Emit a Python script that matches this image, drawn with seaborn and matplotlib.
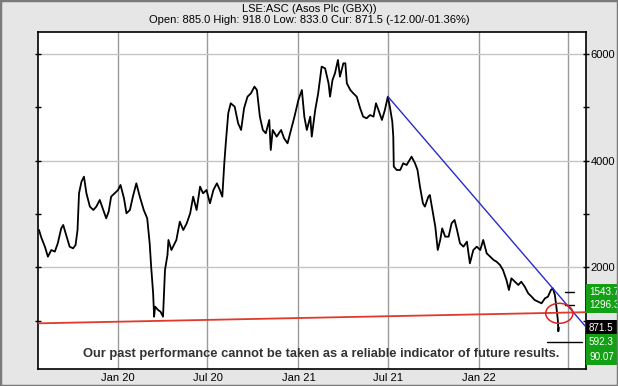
import matplotlib
matplotlib.use("Agg")
import matplotlib.pyplot as plt
import matplotlib.dates as mdates
from matplotlib.patches import Ellipse, Rectangle
from matplotlib.ticker import FixedLocator
import pandas as pd
import seaborn as sns

# ---------------- data ----------------
dates = [
    "2019-07-26", "2019-07-31", "2019-08-07", "2019-08-13", "2019-08-20", "2019-08-27",
    "2019-09-02", "2019-09-09", "2019-09-13", "2019-09-19", "2019-09-26", "2019-10-03",
    "2019-10-08", "2019-10-12", "2019-10-15", "2019-10-20", "2019-10-25", "2019-10-30",
    "2019-11-06", "2019-11-13", "2019-11-19", "2019-11-26", "2019-12-03", "2019-12-09",
    "2019-12-14", "2019-12-19", "2019-12-26", "2020-01-02", "2020-01-07", "2020-01-14",
    "2020-01-19", "2020-01-26", "2020-02-01", "2020-02-08", "2020-02-15", "2020-02-23",
    "2020-03-01", "2020-03-06", "2020-03-09", "2020-03-13", "2020-03-15", "2020-03-17",
    "2020-03-23", "2020-03-28", "2020-04-02", "2020-04-06", "2020-04-11", "2020-04-13",
    "2020-04-19", "2020-04-29", "2020-05-06", "2020-05-13", "2020-05-20", "2020-05-27",
    "2020-06-02", "2020-06-09", "2020-06-16", "2020-06-22", "2020-06-29", "2020-07-06",
    "2020-07-13", "2020-07-20", "2020-07-26", "2020-07-31", "2020-08-04", "2020-08-07",
    "2020-08-12", "2020-08-17", "2020-08-25", "2020-09-01", "2020-09-07", "2020-09-13",
    "2020-09-20", "2020-09-27", "2020-10-04", "2020-10-09", "2020-10-15", "2020-10-21",
    "2020-10-27", "2020-11-03", "2020-11-06", "2020-11-10", "2020-11-18", "2020-11-27",
    "2020-12-03", "2020-12-10", "2020-12-17", "2020-12-24", "2021-01-01", "2021-01-08",
    "2021-01-13", "2021-01-18", "2021-01-25", "2021-01-28", "2021-02-04", "2021-02-10",
    "2021-02-17", "2021-02-24", "2021-03-03", "2021-03-06", "2021-03-11", "2021-03-16",
    "2021-03-22", "2021-03-26", "2021-04-02", "2021-04-06", "2021-04-09", "2021-04-16",
    "2021-04-22", "2021-04-29", "2021-05-06", "2021-05-12", "2021-05-19", "2021-05-26",
    "2021-06-02", "2021-06-07", "2021-06-12", "2021-06-19", "2021-06-25", "2021-07-01",
    "2021-07-05", "2021-07-10", "2021-07-12", "2021-07-13", "2021-07-19", "2021-07-26",
    "2021-08-01", "2021-08-08", "2021-08-18", "2021-08-25", "2021-08-30", "2021-09-04",
    "2021-09-10", "2021-09-14", "2021-09-21", "2021-09-24", "2021-09-28", "2021-10-05",
    "2021-10-10", "2021-10-15", "2021-10-19", "2021-10-25", "2021-11-01", "2021-11-07",
    "2021-11-13", "2021-11-18", "2021-11-24", "2021-12-01", "2021-12-08", "2021-12-14",
    "2021-12-21", "2021-12-28", "2022-01-04", "2022-01-10", "2022-01-17", "2022-01-24",
    "2022-01-31", "2022-02-06", "2022-02-13", "2022-02-19", "2022-02-26", "2022-03-03",
    "2022-03-08", "2022-03-15", "2022-03-22", "2022-03-28", "2022-04-04", "2022-04-11",
    "2022-04-18", "2022-04-24", "2022-05-01", "2022-05-08", "2022-05-15", "2022-05-21",
    "2022-05-27", "2022-05-31", "2022-06-04", "2022-06-07", "2022-06-10", "2022-06-11",
    "2022-06-12",
]
prices = [
    2700, 2550, 2387, 2200, 2325, 2294,
    2450, 2731, 2794, 2606, 2387, 2356,
    2419, 2700, 3388, 3606, 3700, 3388,
    3138, 3075, 3138, 3263, 3075, 2919,
    3044, 3325, 3388, 3450, 3544, 3294,
    3013, 3075, 3325, 3575, 3325, 3075,
    2919, 2450, 2013, 1513, 1075, 1263,
    1200, 1169, 1075, 1950, 2231, 2513,
    2325, 2513, 2856, 2700, 2825, 3013,
    3325, 3075, 3513, 3388, 3450, 3200,
    3450, 3575, 3450, 3325, 3950, 4325,
    4888, 5075, 5013, 4700, 4575, 4981,
    5200, 5263, 5388, 5325, 4825, 4575,
    4513, 4763, 4200, 4575, 4450, 4575,
    4419, 4325, 4575, 4825, 5138, 5325,
    4825, 4575, 4825, 4450, 4950, 5263,
    5763, 5731, 5450, 5200, 5513, 5638,
    5888, 5575, 5825, 5825, 5450, 5325,
    5263, 5200, 4981, 4825, 4794, 4856,
    4825, 5075, 4950, 4763, 4950, 5200,
    5013, 4731, 4450, 3888, 3825, 3825,
    3950, 3919, 4075, 3950, 3825, 3513,
    3200, 3138, 3325, 3356, 3138, 2763,
    2325, 2513, 2731, 2575, 2575, 2825,
    2888, 2700, 2450, 2388, 2481, 2075,
    2325, 2388, 2325, 2513, 2263, 2200,
    2138, 2106, 2044, 1950, 1763, 1575,
    1794, 1731, 1669, 1731, 1638, 1513,
    1450, 1388, 1356, 1325, 1419, 1450,
    1575, 1606, 1481, 1263, 1013, 800,
    871.5,
]

title = "LSE:ASC (Asos Plc (GBX))"
subtitle = "Open: 885.0 High: 918.0 Low: 833.0 Cur: 871.5 (-12.00/-01.36%)"
disclaimer = "Our past performance cannot be taken as a reliable indicator of future results."

xtick_dates = ["2020-01-01", "2020-07-01", "2021-01-01", "2021-07-01", "2022-01-01", "2022-07-01"]
xtick_labels = ["Jan 20", "Jul 20", "Jan 21", "Jul 21", "Jan 22", ""]
ytick_values = [2000, 4000, 6000]
ytick_minor = [1000, 3000, 5000]
x_range = ["2019-07-24", "2022-08-06"]
y_range = [94, 6412]

level_values = [1543.7, 1296.3, 871.5, 592.3, 90.07]
level_labels = ["1543.7", "1296.3", "871.5", "592.3", "90.07"]
level_is_current = [False, False, True, False, False]

blue_dates = ["2021-07-01", "2022-08-06"]
blue_prices = [5203, 881]
red_dates = ["2019-07-24", "2022-08-06"]
red_prices = [950, 1159]

target_levels = [1543.7, 1296.3, 592.3]
target_starts = ["2022-06-25", "2022-06-25", "2022-05-19"]
target_ends = ["2022-07-12", "2022-07-12", "2022-07-29"]

circle_date = "2022-06-13"
circle_price = 1138
circle_days = 55
circle_height = 375

# ---------------- figure ----------------
sns.set_style("white")
plt.rcParams["font.family"] = ["Liberation Sans", "DejaVu Sans"]

W, H = 618, 386
fig = plt.figure(figsize=(W / 100, H / 100), dpi=100)
fig.patch.set_facecolor("#e6e6e6")
fig.patches.append(Rectangle((0, 0), 1, 1, transform=fig.transFigure, fill=False,
                             edgecolor="#7a7a7a", linewidth=2.5))

ax = fig.add_axes([38 / W, 17 / H, 548 / W, 337 / H])
ax.set_facecolor("white")

df = pd.DataFrame({"date": pd.to_datetime(dates), "price": prices})
sns.lineplot(data=df, x="date", y="price", color="black", linewidth=1.3, ax=ax)

ax.set_xlim(pd.to_datetime(x_range[0]), pd.to_datetime(x_range[1]))
ax.set_ylim(*y_range)

# trend lines
ax.plot(pd.to_datetime(blue_dates), blue_prices, color="#2a2ac8", linewidth=1.0, zorder=3)
ax.plot(pd.to_datetime(red_dates), red_prices, color="#e03a2a", linewidth=1.3, zorder=3)

for lv, s, e in zip(target_levels, target_starts, target_ends):
    ax.plot(pd.to_datetime([s, e]), [lv, lv], color="black", linewidth=1.0, zorder=3)

ax.add_patch(Ellipse((mdates.date2num(pd.to_datetime(circle_date)), circle_price),
                     width=circle_days, height=circle_height, fill=False,
                     edgecolor="#e02020", linewidth=1.1, zorder=4))

# axes styling
ax.set_xticks(pd.to_datetime(xtick_dates))
ax.set_xticklabels(xtick_labels)
ax.set_yticks(ytick_values)
ax.yaxis.set_minor_locator(FixedLocator(ytick_minor))
ax.yaxis.set_ticks_position("both")
ax.tick_params(axis="y", which="both", direction="inout", length=5, width=1,
               labelleft=False, labelright=True, labelsize=8, pad=1, colors="black")
ax.tick_params(axis="x", length=0, labelsize=8, pad=3, colors="black")
ax.xaxis.grid(True, color="#9a9a9a", linewidth=1)
ax.yaxis.grid(True, color="#c4c4c4", linewidth=1)
ax.set_axisbelow(True)
ax.set_xlabel("")
ax.set_ylabel("")
for sp in ax.spines.values():
    sp.set_visible(True)
    sp.set_color("black")
    sp.set_linewidth(1.2)

# titles
fig.text(309 / W, 1 - 9 / H, title, ha="center", va="center", fontsize=8, color="black")
fig.text(309 / W, 1 - 20 / H, subtitle, ha="center", va="center", fontsize=8, color="black")

# disclaimer
ax.text(0.516, 0.045, disclaimer, transform=ax.transAxes, ha="center", va="center",
        fontsize=9.3, fontweight="bold", color="#333333",
        family=["Liberation Sans Narrow", "Liberation Sans", "DejaVu Sans"], zorder=5)

# right level labels
min_y = y_range[0] + 225
for v, lab, cur in zip(level_values, level_labels, level_is_current):
    yy = max(v, min_y)
    ax.annotate(lab, xy=(1.0, yy), xycoords=("axes fraction", "data"),
                xytext=(2.2, 0), textcoords="offset points", ha="left", va="center",
                fontsize=7.1, color="white", annotation_clip=False,
                bbox=dict(boxstyle="square,pad=0.3", fc="black" if cur else "#14a014",
                          ec="none"))

fig.savefig("out.png", dpi=100, facecolor=fig.get_facecolor())
